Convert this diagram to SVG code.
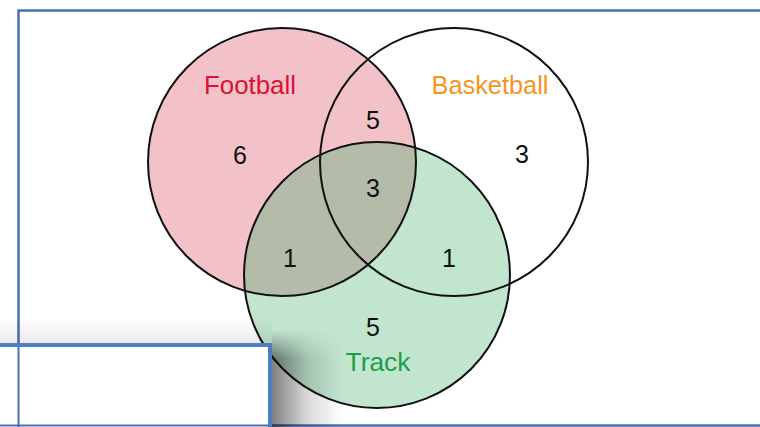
<svg xmlns="http://www.w3.org/2000/svg" width="760" height="427" viewBox="0 0 760 427">
  <style>
    .ring { fill: none; stroke: #111; stroke-width: 2; }
    .num { font-family: "Liberation Sans", "DejaVu Sans", sans-serif; font-size: 25px; fill: #111; text-anchor: middle; }
    .label { font-family: "Liberation Sans", "DejaVu Sans", sans-serif; font-size: 25px; text-anchor: middle; }
  </style>
  <defs>
    <clipPath id="clipFootball">
      <circle cx="282" cy="162" r="134"/>
    </clipPath>
    <linearGradient id="shadowRight" x1="0" y1="0" x2="1" y2="0">
      <stop offset="0" stop-color="#000" stop-opacity="0.5"/>
      <stop offset="0.5" stop-color="#000" stop-opacity="0.15"/>
      <stop offset="1" stop-color="#000" stop-opacity="0"/>
    </linearGradient>
    <linearGradient id="fadeTop" x1="0" y1="0" x2="0" y2="1">
      <stop offset="0" stop-color="#fff" stop-opacity="0"/>
      <stop offset="0.3" stop-color="#fff" stop-opacity="1"/>
      <stop offset="1" stop-color="#fff" stop-opacity="1"/>
    </linearGradient>
    <mask id="shadowMask">
      <rect x="272" y="330" width="80" height="97" fill="url(#fadeTop)"/>
    </mask>
    <linearGradient id="shadowTop" x1="0" y1="0" x2="0" y2="1">
      <stop offset="0" stop-color="#000" stop-opacity="0"/>
      <stop offset="1" stop-color="#000" stop-opacity="0.09"/>
    </linearGradient>
  </defs>

  <!-- page background -->
  <rect x="0" y="0" width="760" height="427" fill="#fff"/>

  <!-- sets -->
  <g id="football">
    <circle cx="282" cy="162" r="134" fill="#f3c2c9"/>
  </g>
  <g id="track">
    <circle cx="377" cy="275" r="133" fill="#c2e5d0"/>
    <circle cx="377" cy="275" r="133" fill="#b4bca9" clip-path="url(#clipFootball)"/>
  </g>
  <g id="basketball">
    <circle cx="454" cy="162" r="134" class="ring"/>
  </g>
  <g id="outlines">
    <circle cx="282" cy="162" r="134" class="ring"/>
    <circle cx="377" cy="275" r="133" class="ring"/>
  </g>

  <!-- set labels -->
  <g id="labels">
    <text class="label" x="250" y="94" fill="#d8132f" textLength="92" lengthAdjust="spacingAndGlyphs">Football</text>
    <text class="label" x="490" y="94" fill="#f7941e" textLength="117" lengthAdjust="spacingAndGlyphs">Basketball</text>
    <text class="label" x="378" y="371" fill="#1a9e4a" textLength="65" lengthAdjust="spacingAndGlyphs">Track</text>
  </g>

  <!-- region counts -->
  <g id="counts">
    <text class="num" x="240" y="164">6</text>
    <text class="num" x="373" y="129">5</text>
    <text class="num" x="522" y="163">3</text>
    <text class="num" x="373" y="197">3</text>
    <text class="num" x="290" y="267">1</text>
    <text class="num" x="449" y="267">1</text>
    <text class="num" x="373" y="336">5</text>
  </g>

  <!-- outer frame -->
  <rect x="18.5" y="10.5" width="760" height="415" fill="none" stroke="#4a6fb5" stroke-width="2.5"/>

  <!-- inset box with drop shadow -->
  <g id="inset">
    <rect x="0" y="318" width="272" height="27" fill="url(#shadowTop)"/>
    <rect x="272" y="330" width="70" height="97" fill="url(#shadowRight)" mask="url(#shadowMask)"/>
    <rect x="-4" y="345" width="274" height="90" fill="#fff" stroke="#4f7fbf" stroke-width="4"/>
    <line x1="18.5" y1="347" x2="18.5" y2="427" stroke="#4a6fb5" stroke-width="2"/>
    <line x1="0" y1="425.5" x2="270" y2="425.5" stroke="#4a6fb5" stroke-width="2"/>
  </g>
</svg>
